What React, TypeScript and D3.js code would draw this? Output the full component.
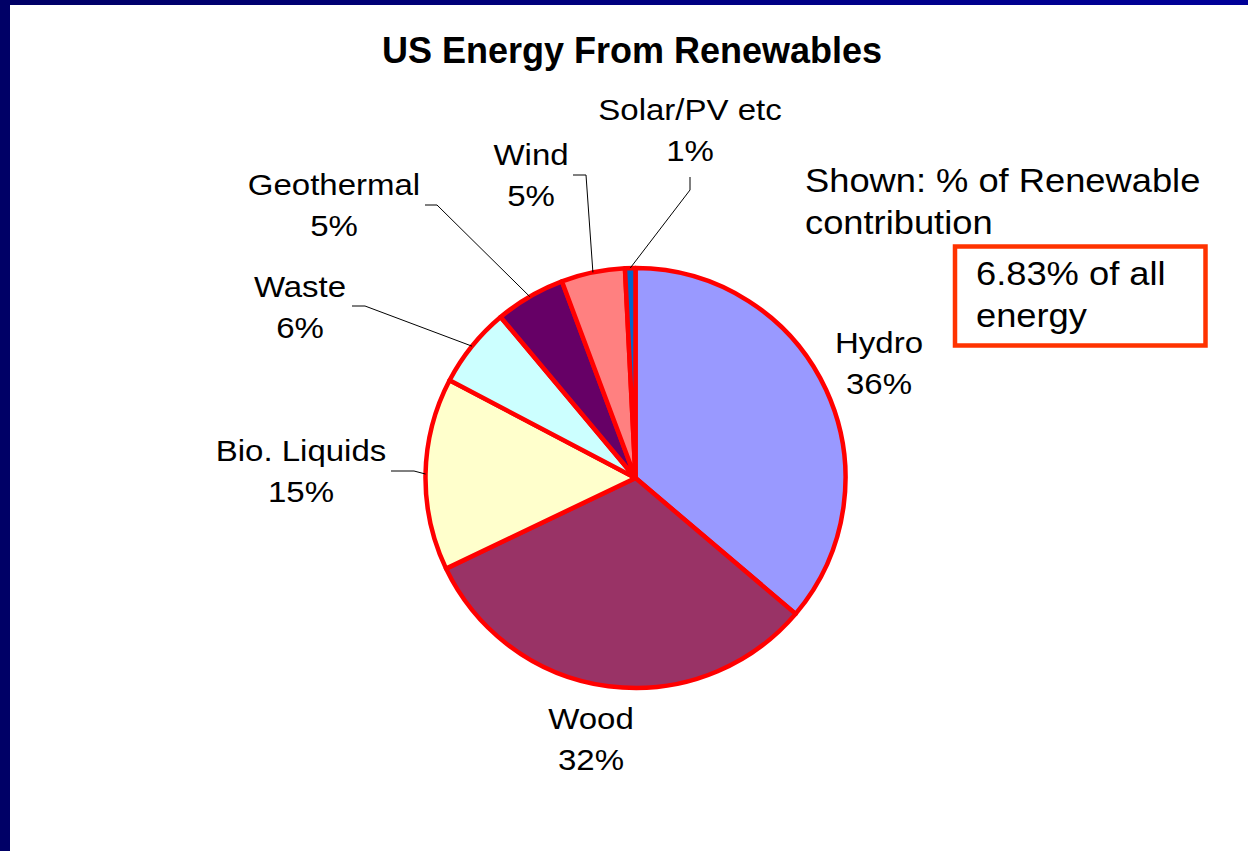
import React from "react";
import * as d3 from "d3";

const categories = ["Hydro", "Wood", "Bio. Liquids", "Waste", "Geothermal", "Wind", "Solar/PV etc"];
const shares = [36.2, 31.7, 14.8, 6.2, 5.4, 4.9, 0.8];
const shownPct = ["36%", "32%", "15%", "6%", "5%", "5%", "1%"];
const colors = ["#9999FF", "#993366", "#FFFFCC", "#CCFFFF", "#660066", "#FF8080", "#0066CC"];

// label layout (positions only)
const labelPos: { x: number; y: number; leader: number[][] | null }[] = [
  { x: 879, y: 353, leader: null },
  { x: 591, y: 729, leader: null },
  { x: 301, y: 461, leader: [[391, 471], [414, 471]] },
  { x: 300, y: 297, leader: [[352, 306], [365, 306]] },
  { x: 334, y: 195, leader: [[425, 205], [437, 205]] },
  { x: 531, y: 165, leader: [[573, 175], [586, 175]] },
  { x: 690, y: 120, leader: [[690, 177], [690, 190]] },
];

const W = 1248, H = 851;
const cx = 635.5, cy = 478, R = 210;
const font = "'Liberation Sans', Arial, Helvetica, sans-serif";

export default function App() {
  const pie = d3.pie<number>().sort(null).value((d) => d);
  const arcs = pie(shares);
  const arc = d3.arc<d3.PieArcDatum<number>>().innerRadius(0).outerRadius(R);
  const outer = d3.arc<d3.PieArcDatum<number>>().innerRadius(R).outerRadius(R);

  return (
    <svg width={W} height={H} style={{ position: "absolute", left: 0, top: 0, background: "#fff" }}>
      <defs>
        <linearGradient id="topbar" x1="0" x2="1" y1="0" y2="0">
          <stop offset="0" stopColor="#000066" />
          <stop offset="1" stopColor="#000099" />
        </linearGradient>
      </defs>
      <rect x={0} y={0} width={W} height={H} fill="#fff" />
      <rect x={0} y={0} width={W} height={5} fill="url(#topbar)" />
      <rect x={0} y={0} width={10} height={H} fill="#000066" />

      <text x={632} y={63} textAnchor="middle" fontFamily={font} fontWeight="bold" fontSize={36} fill="#000">
        US Energy From Renewables
      </text>

      <g transform={`translate(${cx},${cy})`}>
        {arcs.map((a, i) => (
          <path key={i} d={arc(a) || ""} fill={colors[i]} stroke="#FF0000" strokeWidth={4.5} strokeLinejoin="round" />
        ))}
      </g>

      {arcs.map((a, i) => {
        const lp = labelPos[i];
        if (!lp.leader) return null;
        const [px, py] = outer.centroid(a);
        const pts = [...lp.leader, [cx + px, cy + py]];
        return (
          <path
            key={"l" + i}
            d={d3.line()(pts as [number, number][]) || ""}
            fill="none"
            stroke="#000"
            strokeWidth={1}
          />
        );
      })}

      {categories.map((c, i) => {
        const lp = labelPos[i];
        return (
          <g key={"t" + i} fontFamily={font} fontSize={30} fill="#000">
            <text transform={`translate(${lp.x},${lp.y}) scale(1.1,1)`} textAnchor="middle">{c}</text>
            <text transform={`translate(${lp.x},${lp.y + 41}) scale(1.1,1)`} textAnchor="middle">{shownPct[i]}</text>
          </g>
        );
      })}

      <g fontFamily={font} fontSize={33} fill="#000">
        <text transform="translate(805,192) scale(1.1,1)">Shown: % of Renewable</text>
        <text transform="translate(805,234) scale(1.1,1)">contribution</text>
      </g>
      <rect x={955} y={246.5} width={250.5} height={99} fill="#fff" stroke="#FF3300" strokeWidth={4.5} />
      <g fontFamily={font} fontSize={33} fill="#000">
        <text transform="translate(976,285) scale(1.1,1)">6.83% of all</text>
        <text transform="translate(976,327) scale(1.1,1)">energy</text>
      </g>
    </svg>
  );
}
